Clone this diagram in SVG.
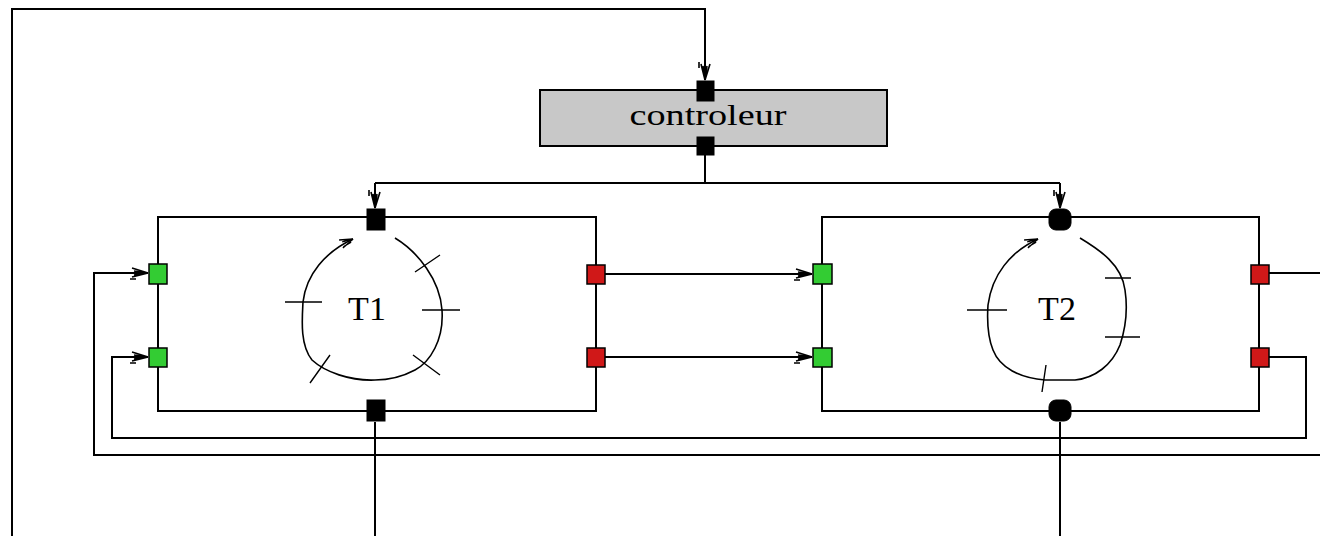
<svg xmlns="http://www.w3.org/2000/svg" width="1320" height="536" viewBox="0 0 1320 536">
<style>
.w{fill:none;stroke:#000;stroke-width:2}
.c{fill:none;stroke:#000;stroke-width:1.6}
.t{fill:none;stroke:#000;stroke-width:1.4}
.box{fill:#fff;stroke:#000;stroke-width:2}
.g{fill:#33cc33;stroke:#000;stroke-width:1.5}
.r{fill:#d01818;stroke:#000;stroke-width:1.5}
.k{fill:#000;stroke:#000;stroke-width:1}
.lbl{font-family:"Liberation Serif","DejaVu Serif",serif;fill:#000;text-anchor:middle}
</style>
<defs>
<marker id="ar" viewBox="-20 -8 22 16" refX="0" refY="0" markerWidth="22" markerHeight="16" markerUnits="userSpaceOnUse" orient="auto">
<path d="M0,0 L-16,-5 M0,0 L-16,4 M-2,0 L-14,-2 M-2,0 L-14,2 M-18,6 L-12,6" fill="none" stroke="#000" stroke-width="1.6"/>
</marker>
<marker id="as" viewBox="-16 -7 18 14" refX="0" refY="0" markerWidth="18" markerHeight="14" markerUnits="userSpaceOnUse" orient="auto">
<path d="M0,0 L-13,-5 M0,0 L-13,4 M-1,0 L-11,-2 M-3,2 L-12,3" fill="none" stroke="#000" stroke-width="1.4"/>
</marker>
</defs>
<rect width="1320" height="536" fill="#fff"/>

<g id="connectors">
<path class="w" d="M12,536 L12,9 L705,9 L705,80" marker-end="url(#ar)"/>
<path class="w" d="M705,146 L705,183"/>
<path class="w" d="M375,183 L1060,183"/>
<path class="w" d="M375,183 L375,208" marker-end="url(#ar)"/>
<path class="w" d="M1060,183 L1060,208" marker-end="url(#ar)"/>
<path class="w" d="M605,274 L812,274" marker-end="url(#ar)"/>
<path class="w" d="M605,357 L812,357" marker-end="url(#ar)"/>
<path class="w" d="M1269,273 L1330,273 L1330,455 L94,455 L94,273 L148,273" marker-end="url(#ar)"/>
<path class="w" d="M1269,357 L1306,357 L1306,438 L112,438 L112,357 L148,357" marker-end="url(#ar)"/>
<path class="w" d="M375,422 L375,536"/>
<path class="w" d="M1060,422 L1060,536"/>
</g>

<g id="controleur">
<rect x="540" y="90" width="347" height="56" fill="#c8c8c8" stroke="#000" stroke-width="2"/>
<text class="lbl" x="708" y="125" font-size="30" textLength="157" lengthAdjust="spacingAndGlyphs">controleur</text>
<rect class="k" x="697" y="81" width="17" height="20"/>
<rect class="k" x="697" y="137" width="17" height="18"/>
</g>

<g id="T1">
<rect class="box" x="158" y="217" width="438" height="194"/>
<path class="c" d="M395,238 C418,252 440,280 442,310 C444,340 430,362 415,370 C400,378 385,380 375,380 C350,381 325,372 312,360 C300,345 302,320 303,302 C306,275 325,252 353,239" marker-end="url(#as)"/>
<path class="t" d="M415,272 L440,255 M422,310 L460,310 M413,355 L440,375 M310,383 L330,355 M285,302 L322,302"/>
<text class="lbl" x="367" y="320" font-size="34">T1</text>
<rect class="k" x="367" y="209" width="18" height="21"/>
<rect class="k" x="367" y="400" width="18" height="21"/>
<rect class="g" x="149" y="264" width="18" height="20"/>
<rect class="g" x="149" y="348" width="18" height="19"/>
<rect class="r" x="587" y="265" width="18" height="19"/>
<rect class="r" x="587" y="348" width="18" height="19"/>
</g>

<g id="T2">
<rect class="box" x="822" y="217" width="437" height="194"/>
<path class="c" d="M1080,238 C1100,250 1122,265 1125,290 C1128,310 1125,330 1120,345 C1112,365 1095,378 1075,380 L1045,380 C1020,378 1000,368 993,350 C987,335 987,320 988,305 C992,275 1010,252 1038,239" marker-end="url(#as)"/>
<path class="t" d="M967,310 L1007,310 M1105,278 L1131,278 M1105,337 L1140,337 M1046,365 L1042,392"/>
<text class="lbl" x="1057" y="320" font-size="34">T2</text>
<rect class="k" x="1049" y="209" width="22" height="21" rx="7"/>
<rect class="k" x="1049" y="400" width="22" height="21" rx="7"/>
<rect class="g" x="813" y="264" width="19" height="20"/>
<rect class="g" x="813" y="348" width="19" height="19"/>
<rect class="r" x="1251" y="265" width="18" height="19"/>
<rect class="r" x="1251" y="348" width="18" height="19"/>
</g>
</svg>
